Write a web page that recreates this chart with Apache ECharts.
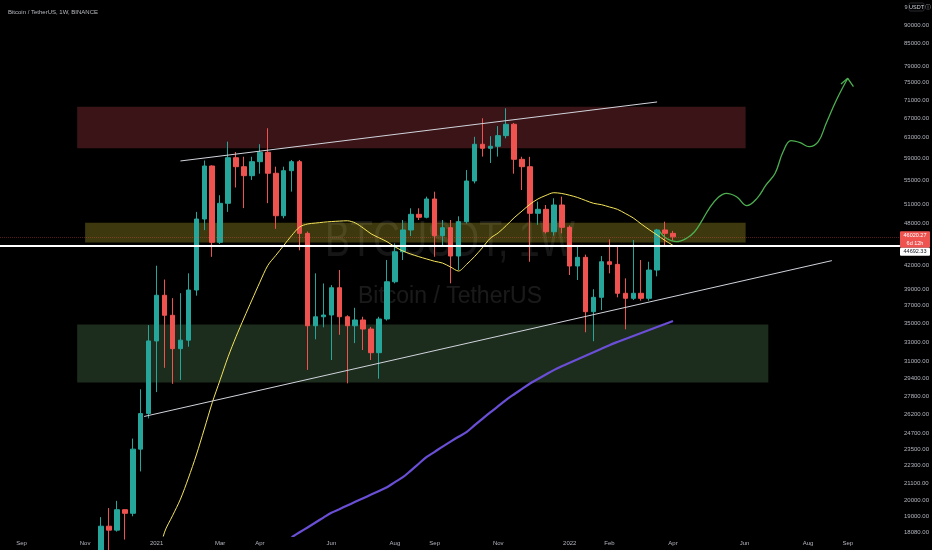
<!DOCTYPE html>
<html><head><meta charset="utf-8">
<script src="https://cdn.jsdelivr.net/npm/echarts@6/dist/echarts.min.js"></script>
<style>html,body{margin:0;padding:0;background:#000;}#c{width:932px;height:550px;}</style>
</head><body><div id="c"></div>
<script>
// ---------- DATA ----------
const weeks = ['2020-11-16','2020-11-23','2020-11-30','2020-12-07','2020-12-14','2020-12-21','2020-12-28',
'2021-01-04','2021-01-11','2021-01-18','2021-01-25','2021-02-01','2021-02-08','2021-02-15','2021-02-22',
'2021-03-01','2021-03-08','2021-03-15','2021-03-22','2021-03-29','2021-04-05','2021-04-12','2021-04-19','2021-04-26',
'2021-05-03','2021-05-10','2021-05-17','2021-05-24','2021-05-31','2021-06-07','2021-06-14','2021-06-21','2021-06-28',
'2021-07-05','2021-07-12','2021-07-19','2021-07-26','2021-08-02','2021-08-09','2021-08-16','2021-08-23','2021-08-30',
'2021-09-06','2021-09-13','2021-09-20','2021-09-27','2021-10-04','2021-10-11','2021-10-18','2021-10-25',
'2021-11-01','2021-11-08','2021-11-15','2021-11-22','2021-11-29','2021-12-06','2021-12-13','2021-12-20','2021-12-27',
'2022-01-03','2022-01-10','2022-01-17','2022-01-24','2022-01-31','2022-02-07','2022-02-14','2022-02-21','2022-02-28',
'2022-03-07','2022-03-14','2022-03-21','2022-03-28','2022-04-04'];
const opens  = [15960,18414,18185,19400,19180,23500,26300,33100,38250,35900,32300,33180,38890,48690,57590,
45230,51170,59120,57460,55850,58380,60140,56280,49200,56740,58380,46530,34730,35730,35930,39170,35730,34730,
35370,34370,31890,35480,39920,43900,47030,49420,48960,51880,46180,47370,43310,48280,54920,61690,60910,
61300,63400,65720,58820,57460,49580,50210,46770,50900,47430,41960,43130,36310,38000,42530,42180,38490,37880,
38490,37880,41430,47030,46530];
const closes = [18414,18185,19400,19180,23500,26300,33100,38250,35900,32300,33180,38890,48690,57590,45230,
51170,59120,57460,55850,58380,60140,56280,49200,56740,58380,46530,34730,35730,35930,39170,35730,34730,35370,
34370,31890,35480,39920,43900,47030,49420,48960,51880,46180,47370,43310,48280,54920,61690,60910,61300,
63400,65720,58820,57460,49580,50210,46770,50900,47430,41960,43130,36310,38000,42530,42180,38490,37880,38490,
37880,41430,47030,46530,46020.27];
const lows   = [15780,16200,18100,17650,19000,21900,25900,28150,30400,28900,29250,32500,38200,47000,43200,
45000,49800,53800,50400,55100,56200,51200,47200,48800,53100,44100,30200,33270,34560,31160,33750,28940,32870,
32160,31160,29370,35300,39720,42760,46140,48540,48800,43210,44620,39720,41430,48000,54500,59330,58140,
59330,62860,56200,53370,42530,47800,46500,46200,46530,40780,40140,34020,33070,36500,41000,38000,34340,37680,
37600,37600,40610,44620,45500];
const highs  = [18950,19500,19950,19420,24300,28400,34800,42000,40200,37900,38500,41000,49800,58600,57700,
52500,62200,60200,59300,59300,61700,64900,57460,57460,58700,58700,46800,41000,39700,39500,41430,35900,36760,
35730,34600,35730,42760,45080,48540,50370,50370,52260,53090,48540,48540,49110,56860,63160,66980,63290,
65340,69130,66000,59300,59280,51450,50900,52000,52260,47700,44620,43500,38990,43300,45650,44620,40350,45560,
42760,42530,47200,48280,46900];
const maYellow = [null,null,null,null,null,null,null,16300,18070,19030,20060,21440,23070,25040,27220,29270,
31480,33550,35590,37680,39870,42040,43390,44780,46210,47470,47930,48070,48200,48300,48370,48420,48090,47320,
46460,45880,45320,44590,44000,43580,43220,42900,42590,42350,41830,41300,42160,43210,44450,45810,46600,47680,
48880,49940,51020,51880,52470,52920,52790,52490,52120,51630,51170,50950,50580,50210,49550,48850,47930,47080,
46290,45490,44800];
const maPurple = [null,null,null,null,null,null,null,null,null,null,null,null,null,null,null,null,null,null,
null,null,null,null,null,null,17780,18060,18340,18630,18920,19210,19430,19660,19890,20120,20350,20590,20830,
21170,21500,21960,22440,22930,23300,23690,24070,24440,24800,25330,25860,26400,26920,27470,27960,28440,28930,
29340,29760,30180,30550,30900,31240,31590,31940,32300,32660,32990,33310,33630,33950,34270,34600,34920,35250];
const projDates  = ['2022-03-23','2022-03-29','2022-04-07','2022-04-16','2022-04-23','2022-04-29','2022-05-06',
'2022-05-14','2022-05-21','2022-05-30','2022-06-08','2022-06-17','2022-06-25','2022-07-03','2022-07-10',
'2022-07-17','2022-07-25','2022-08-02','2022-08-10','2022-08-17','2022-08-26','2022-09-05'];
const projPrices = [46870,45810,45320,45810,46770,48280,50370,52150,52820,52250,50790,51980,54230,56280,60250,
62400,62000,61220,62200,65930,70970,76020];
const arrowDates  = ['2022-08-30','2022-09-05','2022-09-10'];
const arrowPrices = [74670,76020,74030];
const upperTrendDates = ['2021-01-25','2022-03-21'];
const upperTrendPrices = [58510,70530];
const lowerTrendDates = ['2020-12-24','2022-08-22'];
const lowerTrendPrices = [26060,42680];
const zoneStart = ['2020-10-26','2020-11-02','2020-10-26'];
const zoneEnd   = ['2022-06-07','2022-06-07','2022-06-27'];
const zoneLow   = [60910,45200,29030];
const zoneHigh  = [69490,48120,34880];
const keyLevel = 44692.33;
const lastPrice = 46020.27;
const barCountdown = '6d 12h';
const yTicks = [18080,19000,20000,21100,22300,23500,24700,26200,27800,29400,31000,33000,35000,37000,39000,
42000,48000,51000,55000,59000,63000,67000,71000,75000,79000,85000,90000];
const xTickDates = ['2020-09-07','2020-11-02','2021-01-04','2021-03-01','2021-04-05','2021-06-07','2021-08-02',
'2021-09-06','2021-11-01','2022-01-03','2022-02-07','2022-04-04','2022-06-06','2022-08-01','2022-09-05'];
const xTickLabels = ['Sep','Nov','2021','Mar','Apr','Jun','Aug','Sep','Nov','2022','Feb','Apr','Jun','Aug','Sep'];
const xRange = ['2020-08-19','2022-10-21'];
const titleText = 'Bitcoin / TetherUS, 1W, BINANCE';
const watermark1 = 'BTCUSDT, 1W';
const watermark2 = 'Bitcoin / TetherUS';

// ---------- BUILD ----------
const T = d => +echarts.time.parse(d);
const xTickTs = xTickDates.map(T);
const zip = (ds, vs) => ds.map((d, i) => [T(d), vs[i]]);
const candleData = weeks.map((d, i) => [T(d), opens[i], closes[i], lows[i], highs[i]]);
const zoneFills = ['rgba(247,82,95,0.24)', 'rgba(255,235,59,0.24)', 'rgba(129,199,132,0.22)'];
const zones = zoneStart.map((s, i) => [
  { coord: [T(s), zoneHigh[i]], itemStyle: { color: zoneFills[i] } },
  { coord: [T(zoneEnd[i]), zoneLow[i]] }
]);
const FONT = 'Liberation Sans, Arial, sans-serif';

const chart = echarts.init(document.getElementById('c'), null, { renderer: 'canvas' });
const option = {
  backgroundColor: '#000000',
  animation: false,
  title: { text: titleText, left: 3, top: 4,
    textStyle: { color: '#b8bbc2', fontSize: 6, fontWeight: 'normal', fontFamily: FONT } },
  grid: { left: 0, right: 32, top: 0, bottom: 14 },
  xAxis: {
    type: 'value', min: T(xRange[0]), max: T(xRange[1]), scale: true,
    axisLine: { show: false }, axisTick: { show: false }, splitLine: { show: false },
    axisLabel: {
      customValues: xTickTs, color: '#b2b5be', fontSize: 6, margin: 4, fontFamily: FONT,
      formatter: v => { const i = xTickTs.indexOf(+v); return i >= 0 ? xTickLabels[i] : ''; }
    }
  },
  yAxis: {
    type: 'log', logBase: 10, position: 'right', min: 17850, max: 97400,
    axisLine: { show: false }, axisTick: { show: false }, splitLine: { show: false },
    axisLabel: { customValues: yTicks, color: '#b2b5be', fontSize: 6, margin: 4, fontFamily: FONT,
      formatter: v => Number(v).toFixed(2) }
  },
  series: [
    { type: 'line', data: [], z: 1, silent: true,
      markArea: { silent: true, data: zones } },
    { type: 'candlestick', data: candleData, barWidth: 5, z: 3,
      itemStyle: { color: '#26a69a', color0: '#ef5350', borderColor: '#26a69a', borderColor0: '#ef5350', borderWidth: 1 },
      markLine: { silent: true, symbol: 'none', animation: false,
        data: [
          { yAxis: keyLevel, lineStyle: { color: '#ffffff', width: 2, type: 'solid' }, label: { show: false } },
          { yAxis: lastPrice, lineStyle: { color: 'rgba(239,83,80,0.35)', width: 1, type: 'dotted' }, label: { show: false } }
        ] } },
    { type: 'line', data: zip(weeks, maYellow), symbol: 'none', smooth: 0.3, z: 4, silent: true,
      lineStyle: { color: '#f5e55a', width: 1 } },
    { type: 'line', data: zip(weeks, maPurple), symbol: 'none', smooth: 0.3, z: 4, silent: true,
      lineStyle: { color: '#6a4fd6', width: 2.2 } },
    { type: 'line', data: zip(upperTrendDates, upperTrendPrices), symbol: 'none', z: 4, silent: true,
      lineStyle: { color: '#d1d4dc', width: 1 } },
    { type: 'line', data: zip(lowerTrendDates, lowerTrendPrices), symbol: 'none', z: 4, silent: true,
      lineStyle: { color: '#d1d4dc', width: 1 } },
    { type: 'line', data: zip(projDates, projPrices), symbol: 'none', smooth: 0.4, z: 4, silent: true,
      lineStyle: { color: '#4caf50', width: 1.3 } },
    { type: 'line', data: zip(arrowDates, arrowPrices), symbol: 'none', z: 4, silent: true,
      lineStyle: { color: '#4caf50', width: 1.3 } }
  ]
};
chart.setOption(option);

const py1 = chart.convertToPixel({ yAxisIndex: 0 }, lastPrice);
const py2 = chart.convertToPixel({ yAxisIndex: 0 }, keyLevel);
const redTop = py1 - 5.5, redH = 16.5;
const whiteTop = Math.max(py2 - 4, redTop + redH), whiteH = 8;
chart.setOption({
  graphic: [
    { type: 'text', x: 450, y: 242, scaleX: 0.75, z: 0, silent: true,
      style: { text: watermark1, fill: 'rgba(255,255,255,0.085)', font: '50px ' + FONT, align: 'center', verticalAlign: 'middle' } },
    { type: 'text', x: 450, y: 297, z: 0, silent: true,
      style: { text: watermark2, fill: 'rgba(255,255,255,0.1)', font: '23px ' + FONT, align: 'center', verticalAlign: 'middle' } },
    { type: 'rect', shape: { x: 900, y: redTop, width: 30, height: redH, r: 1 }, z: 10,
      style: { fill: '#ef5350' } },
    { type: 'text', x: 915, y: redTop + 4.5, z: 11,
      style: { text: lastPrice.toFixed(2), fill: '#ffffff', font: '5.5px ' + FONT, align: 'center', verticalAlign: 'middle' } },
    { type: 'text', x: 915, y: redTop + 12, z: 11,
      style: { text: barCountdown, fill: '#ffffff', font: '5.5px ' + FONT, align: 'center', verticalAlign: 'middle' } },
    { type: 'rect', shape: { x: 900, y: whiteTop, width: 30, height: whiteH, r: 1 }, z: 10,
      style: { fill: '#ffffff' } },
    { type: 'text', x: 915, y: whiteTop + whiteH / 2, z: 11,
      style: { text: keyLevel.toFixed(2), fill: '#131722', font: '5.5px ' + FONT, align: 'center', verticalAlign: 'middle' } },
    { type: 'text', x: 906, y: 7, z: 11,
      style: { text: '9', fill: '#b2b5be', font: '5.5px ' + FONT, align: 'center', verticalAlign: 'middle' } },
    { type: 'rect', shape: { x: 909, y: 3, width: 15, height: 8, r: 1.5 }, z: 10,
      style: { fill: 'none', stroke: '#434651', lineWidth: 0.6 } },
    { type: 'text', x: 916.5, y: 7, z: 11,
      style: { text: 'USDT', fill: '#d1d4dc', font: '5.5px ' + FONT, align: 'center', verticalAlign: 'middle' } },
    { type: 'text', x: 927.5, y: 7, z: 11,
      style: { text: '\u24d8', fill: '#b2b5be', font: '5.5px ' + FONT, align: 'center', verticalAlign: 'middle' } }
  ]
});
</script></body></html>
